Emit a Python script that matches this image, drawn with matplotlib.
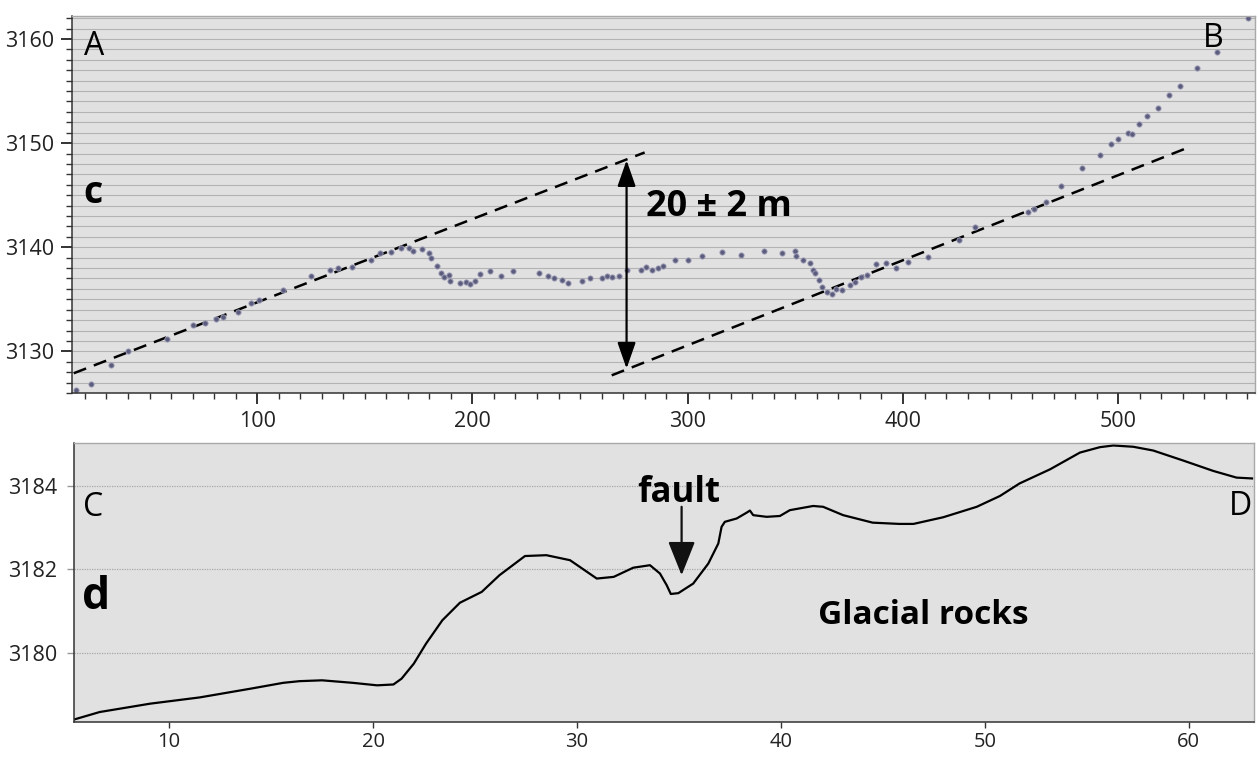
import numpy as np
import matplotlib; matplotlib.use("Agg")
import matplotlib.pyplot as plt
from matplotlib.ticker import MultipleLocator
from matplotlib.patches import ArrowStyle

plt.rcParams['font.family'] = ['Open Sans', 'DejaVu Sans']

# profile A-B (survey points): distance (m), elevation (m)
ab_x = [16, 23, 32, 40, 58, 70, 76, 81, 84, 91, 97, 101, 112, 125, 134, 137.5, 144, 153, 157, 162,
        167, 170.5, 172.5, 176.7, 180, 180.9, 183.6, 185.5, 187, 189, 189.8, 194.1, 197.2, 198.8,
        201.4, 203.7, 208.3, 213.3, 218.8, 230.7, 234.9, 238, 241.5, 244.3, 251.1, 254.6, 260.3,
        262.6, 265, 268, 272, 278.5, 280.5, 283.3, 286, 288.6, 294, 300.1, 306.6, 315.7, 324.9,
        335.3, 343.8, 350, 350.3, 353.7, 356.8, 358.3, 359.3, 360.8, 362.4, 364.7, 366.8, 369.1,
        371.9, 375.3, 377.8, 380.4, 383.5, 387.6, 392.3, 396.6, 402.5, 411.6, 425.9, 433.6, 458.3,
        461, 466.5, 473.3, 483.3, 491.5, 496.4, 500, 504.6, 506.5, 509.6, 513.4, 518.5, 523.6,
        528.6, 536.6, 546, 560.2]
ab_y = [3126.3, 3126.9, 3128.7, 3130.0, 3131.2, 3132.5, 3132.7, 3133.1, 3133.3, 3133.8, 3134.6,
        3134.9, 3135.9, 3137.2, 3137.8, 3138.0, 3138.1, 3138.8, 3139.4, 3139.5,
        3139.9, 3139.9, 3139.6, 3139.8, 3139.4, 3139.0, 3138.2, 3137.5, 3137.1, 3137.3, 3136.8,
        3136.6, 3136.7, 3136.5, 3136.8, 3137.4, 3137.7, 3137.2, 3137.7, 3137.5, 3137.2, 3137.0,
        3136.9, 3136.6, 3136.8, 3137.0, 3137.0, 3137.2, 3137.1, 3137.2, 3137.8, 3137.8, 3138.1,
        3137.8, 3138.0, 3138.2, 3138.8, 3138.8, 3139.2, 3139.5, 3139.3, 3139.6, 3139.4, 3139.6,
        3139.2, 3138.8, 3138.5, 3137.8, 3137.5, 3136.9, 3136.2, 3135.7, 3135.5, 3136.0, 3135.9,
        3136.4, 3136.7, 3137.1, 3137.3, 3138.4, 3138.5, 3138.0, 3138.6, 3139.1, 3140.7, 3141.9,
        3143.4, 3143.7, 3144.3, 3145.9, 3147.6, 3148.9, 3149.9, 3150.4, 3151.0, 3150.9, 3151.8,
        3152.6, 3153.4, 3154.6, 3155.5, 3157.2, 3158.7, 3162.0]

# fitted surfaces (dashed) and vertical offset
upper_x = [14.8, 280]
upper_y = [3127.9, 3149.1]
lower_x = [264.7, 534]
lower_y = [3127.7, 3149.7]
offset_x = 271.6
offset_y = [3128.35, 3148.35]

# profile C-D (continuous)
cd_x = [5.34, 6.6, 9.07, 11.5, 14.0, 15.6, 16.4, 17.5, 19.0, 20.2, 21.0, 21.4, 22.0, 22.6, 23.4,
        24.26, 25.33, 26.2, 27.45, 28.5, 29.66, 30.97, 31.8, 32.76, 33.58, 34.07, 34.4, 34.6,
        34.97, 35.7, 36.44, 36.93, 37.09, 37.25, 37.83, 38.32, 38.48, 38.64, 39.3, 39.95, 40.44,
        41.58, 42.07, 43.05, 44.5, 45.8, 46.5, 47.96, 49.6, 50.74, 51.7, 53.2, 54.66, 55.64,
        56.3, 57.27, 58.25, 59.72, 61.2, 62.34, 63.1]
cd_y = [3178.4, 3178.58, 3178.78, 3178.93, 3179.14, 3179.28, 3179.32, 3179.34, 3179.28, 3179.22,
        3179.24, 3179.38, 3179.74, 3180.22, 3180.78, 3181.2, 3181.46, 3181.86, 3182.32, 3182.34,
        3182.22, 3181.78, 3181.82, 3182.04, 3182.1, 3181.9, 3181.62, 3181.41, 3181.43, 3181.66,
        3182.14, 3182.62, 3183.02, 3183.14, 3183.22, 3183.36, 3183.41, 3183.3, 3183.26, 3183.28,
        3183.42, 3183.52, 3183.5, 3183.3, 3183.12, 3183.09, 3183.09, 3183.25, 3183.5, 3183.76,
        3184.06, 3184.4, 3184.8, 3184.93, 3184.97, 3184.94, 3184.85, 3184.61, 3184.36, 3184.2,
        3184.18]

BG = "#e1e1e1"
fig = plt.figure(figsize=(12.59, 7.57), dpi=100)
ax1 = fig.add_axes([0.0572, 0.4808, 0.9396, 0.498])
ax2 = fig.add_axes([0.0588, 0.0462, 0.9373, 0.3686])

def frame(ax):
    ax.set_facecolor(BG)
    for s in ("left", "bottom"):
        ax.spines[s].set_color("#333333"); ax.spines[s].set_linewidth(1.1)
    for s in ("top", "right"):
        ax.spines[s].set_color("#a8a8a8"); ax.spines[s].set_linewidth(1.0)
    ax.tick_params(which="both", direction="out", colors="#333333", labelcolor="#222222", labelsize=15.5)
    ax.set_axisbelow(True)

# --- panel c ---
frame(ax1)
ax1.set_xlim(14, 563.5); ax1.set_ylim(3126.0, 3162.2)
ax1.xaxis.set_major_locator(MultipleLocator(100)); ax1.xaxis.set_minor_locator(MultipleLocator(10))
ax1.yaxis.set_major_locator(MultipleLocator(10)); ax1.yaxis.set_minor_locator(MultipleLocator(1))
ax1.tick_params(which="major", length=8, width=1.4, pad=5)
ax1.tick_params(which="minor", length=4, width=1.0)
ax1.yaxis.grid(True, which="both", color="#b3b3b3", lw=0.8)
ax1.plot(upper_x, upper_y, color="k", ls=(0, (5.3, 3.3)), lw=1.8)
ax1.plot(lower_x, lower_y, color="k", ls=(0, (5.3, 3.3)), lw=1.8)
ax1.plot(ab_x, ab_y, ls="none", marker="o", ms=3.8, mfc="#5c5c7c", mec="#a0a0bc", mew=0.6)
ax1.annotate("", xy=(offset_x, offset_y[1]), xytext=(offset_x, offset_y[0]),
             arrowprops=dict(arrowstyle=ArrowStyle("<|-|>", head_length=0.8, head_width=0.28),
                             mutation_scale=20, color="k", lw=1.6, shrinkA=0, shrinkB=0))
ax1.text(314.4, 3143.9, "20 ± 2 m", fontsize=26, fontweight="bold", ha="center", va="center")
ax1.text(19.4, 3158.43, "A", fontsize=23, ha="left", va="baseline")
ax1.text(539.4, 3159.2, "B", fontsize=23, ha="left", va="baseline")
ax1.text(19.4, 3144.27, "c", fontsize=27, fontweight="bold", ha="left", va="baseline")

# --- panel d ---
frame(ax2)
ax2.set_xlim(5.34, 63.2); ax2.set_ylim(3178.34, 3185.03)
ax2.xaxis.set_major_locator(MultipleLocator(10))
ax2.yaxis.set_major_locator(MultipleLocator(2))
ax2.tick_params(which="major", length=5, width=1.0, pad=7)
ax2.tick_params(axis="x", length=4, pad=3, labelsize=14.5)
ax2.tick_params(axis="y", colors="#999999", labelcolor="#222222")
ax2.yaxis.grid(True, color="#a8a8a8", lw=0.9, ls=(0, (1, 1)))
ax2.plot(cd_x, cd_y, color="k", lw=1.6)
ax2.annotate("", xy=(35.13, 3181.86), xytext=(35.13, 3183.5),
             arrowprops=dict(arrowstyle=ArrowStyle("-|>", head_length=1.0, head_width=0.4),
                             mutation_scale=21, color="#111111", lw=1.6, shrinkA=0, shrinkB=0))
ax2.text(35.0, 3183.62, "fault", fontsize=25, fontweight="bold", ha="center", va="baseline")
ax2.text(47.0, 3180.69, "Glacial rocks", fontsize=24, fontweight="bold", ha="center", va="baseline")
ax2.text(5.78, 3183.28, "C", fontsize=23, ha="left", va="baseline")
ax2.text(63.12, 3183.3, "D", fontsize=23, ha="right", va="baseline")
ax2.text(5.74, 3181.05, "d", fontsize=32, fontweight="bold", ha="left", va="baseline")

fig.savefig("out.png", dpi=100)
